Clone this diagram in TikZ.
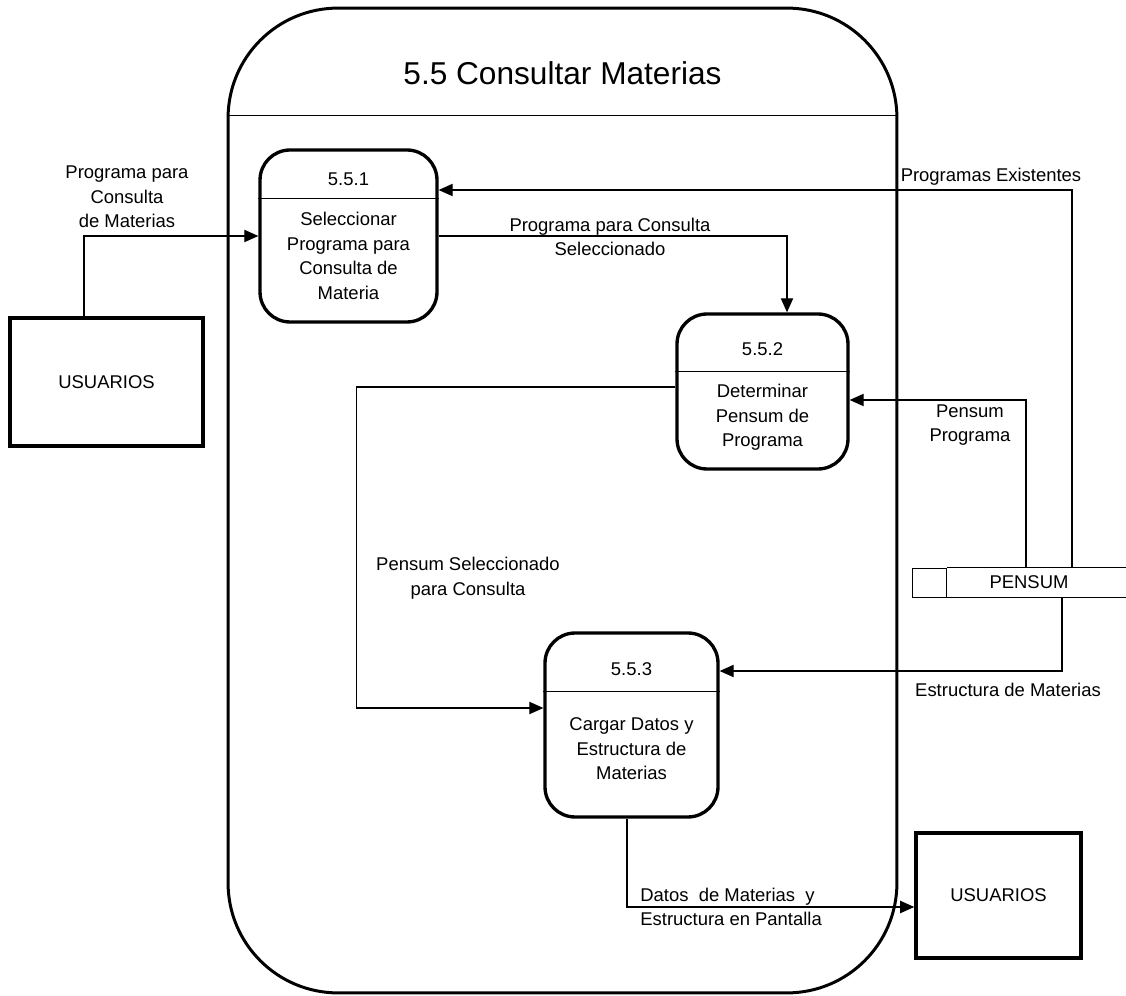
\documentclass[tikz,border=0pt]{standalone}
\usepackage{fontspec}
\setmainfont{Liberation Sans}
\usetikzlibrary{positioning,arrows.meta,calc}

\begin{document}
\begin{tikzpicture}[
    x=0.02cm, y=-0.02cm,
    txt/.style={font=\fontsize{10.5}{14}\selectfont, align=center, inner sep=0pt},
    process/.style={rectangle, rounded corners=0.6cm, draw, line width=1.9pt},
    entity/.style={rectangle, draw, line width=2pt, font=\fontsize{10.5}{14}\selectfont},
    extent/.style={rectangle, rounded corners=2.2cm, draw, line width=1.7pt,
        minimum width=13.38cm, minimum height=19.7cm},
    store/.style={rectangle, minimum width=3.28cm, minimum height=0.58cm, inner sep=0pt,
        font=\fontsize{10.5}{14}\selectfont},
    storetag/.style={rectangle, draw, thin, minimum width=0.68cm, minimum height=0.58cm, inner sep=0pt},
    flowlabel/.style={txt},
]
\useasboundingbox (0,0) rectangle (1126,996);

\node[extent] (ext) at (562.5,500.5) {};
\draw[thin] ([yshift=-2.18cm]ext.north west) -- ([yshift=-2.18cm]ext.north east);
\node[font=\fontsize{18}{22}\selectfont] (title) at ([yshift=-1.34cm]ext.north) {5.5 Consultar Materias};

\node[process, minimum width=3.54cm, minimum height=3.44cm] (p1) at (348.5,236) {};
\draw[thin] ([yshift=-1cm]p1.north west) -- ([yshift=-1cm]p1.north east);
\node[txt] (n1) at ([yshift=-0.62cm]p1.north) {5.5.1};
\node[txt] (t1) at ([yshift=-0.4cm]p1.center) {Seleccionar\\Programa para\\Consulta de\\Materia};

\node[process, minimum width=3.42cm, minimum height=3.1cm] (p2) at (762.5,391.5) {};
\draw[thin] ([yshift=-1.18cm]p2.north west) -- ([yshift=-1.18cm]p2.north east);
\node[txt] (n2) at ([yshift=-0.74cm]p2.north) {5.5.2};
\node[txt] (t2) at ([yshift=-0.52cm]p2.center) {Determinar\\Pensum de\\Programa};

\node[process, minimum width=3.46cm, minimum height=3.68cm] (p3) at (631.5,725) {};
\draw[thin] ([yshift=-1.2cm]p3.north west) -- ([yshift=-1.2cm]p3.north east);
\node[txt] (n3) at ([yshift=-0.76cm]p3.north) {5.5.3};
\node[txt] (t3) at ([yshift=-0.48cm]p3.center) {Cargar Datos y\\Estructura de\\Materias};

\node[entity, minimum width=3.86cm, minimum height=2.56cm] (u1) at (106.5,382) {USUARIOS};
\node[entity, minimum width=3.3cm, minimum height=2.5cm] (u2) at (998.5,895.5) {USUARIOS};

\node[store] (pensum) at (1029,582.5) {PENSUM};
\node[storetag, left=0pt of pensum] (tag) {};
\draw[thin] (tag.north east) -- ([xshift=0.3cm]pensum.north east);
\draw[thin] (pensum.south west) -- ([xshift=0.3cm]pensum.south east);

\draw[-{Triangle[length=8pt,width=7pt]}, semithick] ([xshift=-0.45cm]u1.north) |- (p1.west);
\draw[-{Triangle[length=8pt,width=7pt]}, semithick] ([xshift=0.86cm]pensum.north) |- ([yshift=0.92cm]p1.east);
\draw[-{Triangle[length=8pt,width=7pt]}, semithick] (p1.east) -| ([xshift=0.49cm]p2.north);
\draw[-{Triangle[length=8pt,width=7pt]}, semithick] ([xshift=-0.06cm]pensum.north) |- ([yshift=-0.17cm]p2.east);
\draw[-{Triangle[length=8pt,width=7pt]}, semithick] ([yshift=0.09cm]p2.west) -- ++(-319,0) |- ([yshift=0.34cm]p3.west);
\draw[-{Triangle[length=8pt,width=7pt]}, semithick] ([xshift=0.66cm]pensum.south) |- ([yshift=1.08cm]p3.east);
\draw[-{Triangle[length=8pt,width=7pt]}, semithick] ([xshift=-0.09cm]p3.south) |- ([yshift=-0.23cm]u2.west);

\node[flowlabel] (l1) at (127,197) {Programa para\\Consulta\\de Materias};
\node[flowlabel] (l2) at (991,177) {Programas Existentes};
\node[flowlabel] (l3) at (610,237) {Programa para Consulta\\Seleccionado};
\node[flowlabel] (l4) at (970,425) {Pensum\\Programa};
\node[flowlabel] (l5) at (468,578) {Pensum Seleccionado\\para Consulta};
\node[flowlabel] (l6) at (1008,690) {Estructura de Materias};
\node[flowlabel, align=left, anchor=west] (l7) at (640,907) {Datos\ \ de Materias\ \ y\\Estructura en Pantalla};
\end{tikzpicture}
\end{document}
